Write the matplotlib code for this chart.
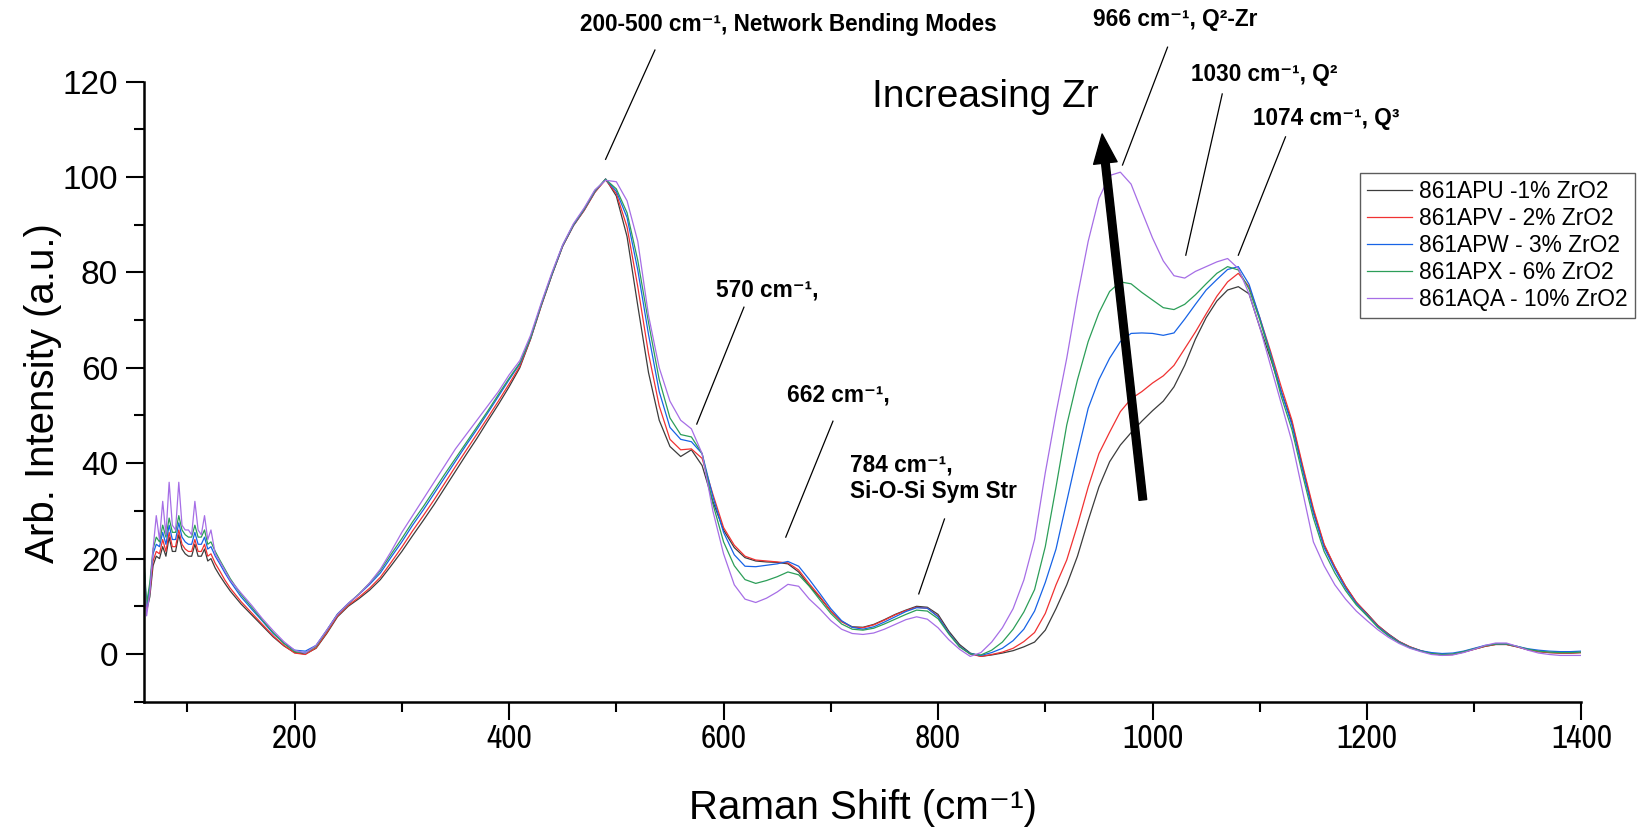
import matplotlib
matplotlib.use("Agg")
import matplotlib.pyplot as plt
from matplotlib.ticker import MultipleLocator
from matplotlib import font_manager
from matplotlib.font_manager import FontProperties

plt.rcParams["font.family"] = ["Liberation Sans", "DejaVu Sans"]

# Raman shift sampling (cm-1): finer at the low end where the fringes are
shift = [60, 62, 65, 68, 71, 74, 77, 80, 83, 86, 89, 92, 95, 98, 101, 104,
         107, 110, 113, 116, 119, 122, 126, 130, 135, 140] + list(range(150, 1401, 10))

apu = [15, 9, 12, 18.5, 20.5, 20, 22.5, 20.5, 24.5, 21.5, 21.5, 25, 22, 21, 20.5, 20.5,
       23, 20.5, 20.5, 22, 19.5, 20, 18, 16.5, 14.8, 13.2,
       10.5, 8.2, 5.9, 3.6, 1.7,
       0.3, 0.0, 1.2, 4.3, 7.8, 10.0, 11.6, 13.4, 15.6, 18.5,
       21.5, 24.8, 28.0, 31.3, 34.8, 38.3, 41.8, 45.2, 48.8, 52.3,
       56.0, 60.0, 66.0, 73.0, 79.5, 85.5, 89.8, 93.0, 96.8, 99.6,
       96.0, 87.5, 73.0, 59.0, 49.0, 43.5, 41.4, 42.8, 39.5, 32.0,
       26.0, 22.3, 20.2, 19.5, 19.3, 19.2, 18.9, 17.2, 14.3, 11.8,
       9.0, 6.8, 5.7, 5.6, 6.2, 7.2, 8.3, 9.2, 10.0, 9.8,
       8.3, 4.8, 2.0, 0.2, -0.5, -0.2, 0.2, 0.7, 1.5, 2.5,
       5.0, 9.5, 14.5, 20.5, 28.0, 35.0, 40.3, 43.8, 46.4, 48.8,
       51.0, 53.0, 56.0, 60.5, 66.0, 70.5, 74.0, 76.3, 77.0, 75.5,
       68.5, 62.0, 55.0, 48.5, 39.0, 30.0, 22.8, 18.2, 14.2, 10.8,
       8.5, 6.0, 4.2, 2.6, 1.5, 0.7, 0.1, -0.2, -0.1, 0.4,
       1.0, 1.6, 2.0, 2.0, 1.5, 0.9, 0.5, 0.3, 0.2, 0.2, 0.3]

apv = [16, 9.5, 13, 19.5, 21.5, 21, 24, 21.5, 25.5, 22.5, 22.5, 26, 23, 22, 21.5, 21.5,
       24, 21.5, 21.5, 23, 20.5, 21, 19, 17.5, 15.5, 13.8,
       11.0, 8.6, 6.2, 3.8, 1.8,
       0.2, -0.1, 1.3, 4.5, 8.0, 10.2, 11.9, 13.8, 16.1, 19.2,
       22.4, 25.8, 29.0, 32.3, 35.8, 39.3, 42.7, 46.1, 49.5, 53.0,
       56.6, 60.3, 66.0, 73.0, 79.5, 85.5, 89.8, 93.0, 96.8, 99.4,
       96.5, 89.5, 77.0, 63.0, 52.0, 45.0, 42.8, 43.0, 41.0, 33.5,
       26.5, 22.8, 20.5, 19.7, 19.5, 19.3, 19.1, 17.6, 14.7, 12.0,
       9.0, 6.8, 5.6, 5.5, 6.1, 7.1, 8.2, 9.1, 9.8, 9.6,
       7.9, 4.4, 1.6, 0.0, -0.5, -0.1, 0.4, 1.2, 2.6, 4.5,
       8.5, 14.5, 19.7, 27.0, 35.0, 42.0, 46.5, 50.8, 53.5, 55.0,
       56.8, 58.3, 60.5, 64.0, 67.5, 71.3, 75.0, 78.0, 79.8, 77.0,
       70.5, 63.5, 56.0, 49.0, 39.5, 30.5, 23.0, 18.3, 14.2, 10.9,
       8.4, 6.0, 4.1, 2.6, 1.5, 0.7, 0.1, -0.2, -0.1, 0.4,
       1.0, 1.6, 2.0, 2.0, 1.5, 0.9, 0.5, 0.3, 0.2, 0.2, 0.3]

apw = [17, 10, 14, 21, 23, 22.5, 25.5, 23, 27, 24, 24, 27.5, 24.5, 23.5, 23, 23,
       25.5, 23, 23, 24.5, 22, 22.5, 20.5, 19, 17, 15.2,
       12.0, 9.4, 6.9, 4.3, 2.3,
       0.8, 0.6, 1.8, 5.0, 8.4, 10.6, 12.5, 14.6, 17.0, 20.3,
       23.5, 27.0, 30.2, 33.6, 37.0, 40.4, 43.8, 47.1, 50.5, 54.0,
       57.5, 60.8, 66.2, 73.2, 79.6, 85.6, 89.9, 93.2, 97.0, 99.5,
       97.0, 91.5, 80.5, 67.0, 55.0, 47.5, 45.0, 44.5, 42.0, 33.0,
       25.5, 20.8, 18.4, 18.3, 18.6, 18.9, 19.4, 18.4, 15.6, 12.6,
       9.5, 7.0, 5.6, 5.2, 5.7, 6.7, 7.8, 8.9, 9.7, 9.6,
       7.8, 4.4, 1.6, 0.1, -0.3, 0.3, 1.2, 2.8, 5.2, 9.0,
       15.0, 22.0, 32.0, 42.0, 51.5, 57.5, 62.0, 65.5, 67.2, 67.3,
       67.2, 66.8, 67.3, 70.2, 73.3, 76.3, 78.5, 80.6, 81.2, 77.5,
       70.5, 63.0, 55.0, 48.0, 38.5, 29.5, 22.3, 17.8, 13.8, 10.6,
       8.2, 5.8, 4.0, 2.5, 1.4, 0.7, 0.3, 0.1, 0.2, 0.6,
       1.2, 1.8, 2.1, 2.1, 1.6, 1.1, 0.8, 0.6, 0.5, 0.5, 0.6]

apx = [18, 10.5, 15, 22, 24.5, 23.5, 27, 24.5, 28.5, 25.5, 25.5, 29, 26, 25, 24.5, 24.5,
       27, 24.5, 24.5, 26, 23, 23.5, 21.5, 19.8, 17.8, 15.8,
       12.5, 9.8, 7.1, 4.5, 2.2,
       0.5, 0.2, 1.6, 4.9, 8.3, 10.5, 12.6, 14.9, 17.5, 20.9,
       24.2, 27.7, 30.9, 34.3, 37.7, 41.0, 44.3, 47.6, 50.9, 54.4,
       57.8, 61.0, 66.3, 73.3, 79.7, 85.7, 90.0, 93.3, 97.1, 99.5,
       97.5, 92.5, 82.5, 69.5, 57.5, 49.5, 46.0, 45.5, 42.0, 31.5,
       23.5, 18.5, 15.6, 14.8, 15.4, 16.2, 17.2, 16.6, 14.2, 11.3,
       8.5, 6.3, 5.2, 5.0, 5.4, 6.3, 7.3, 8.3, 9.2, 9.0,
       7.4, 4.2, 1.5, 0.0, -0.2, 0.8, 2.5, 5.2, 8.8, 13.5,
       22.5, 35.0, 48.0, 57.5, 65.5, 71.5, 76.0, 78.0, 77.6, 75.8,
       74.2, 72.6, 72.2, 73.3, 75.3, 77.6, 79.8, 81.2, 80.5, 76.5,
       70.0, 62.5, 54.0, 47.0, 37.5, 28.5, 21.5, 17.0, 13.3, 10.3,
       8.0, 5.6, 3.8, 2.4, 1.3, 0.6, 0.1, -0.1, 0.0, 0.5,
       1.1, 1.7, 2.1, 2.1, 1.6, 1.0, 0.6, 0.4, 0.3, 0.3, 0.4]

aqa = [16, 8, 13, 22, 29, 24, 32, 25, 36, 27, 26, 36, 27, 26, 26, 25,
       32, 26, 25, 29, 24, 26, 21, 19.5, 17.5, 15.5,
       12.8, 10.2, 7.4, 4.9, 2.6,
       0.8, 0.2, 1.8, 5.0, 8.3, 10.6, 12.5, 14.9, 17.8, 21.5,
       25.5, 29.0, 32.5, 36.0, 39.5, 43.0, 46.0, 49.0, 52.0, 55.0,
       58.5, 61.5, 66.8, 73.6, 80.0, 85.8, 90.2, 93.5, 97.3, 99.3,
       99.0, 95.0, 86.5, 71.0, 60.0, 53.0, 49.0, 47.2, 42.0, 30.0,
       21.0, 14.5, 11.5, 10.8, 11.7, 13.0, 14.6, 14.2, 11.5, 9.4,
       7.0, 5.2, 4.3, 4.1, 4.4, 5.2, 6.2, 7.2, 7.8, 7.3,
       5.5, 3.0, 1.0, -0.5, 0.3, 2.5, 5.5, 9.5, 15.5, 24.0,
       38.0, 50.5, 62.0, 75.0, 86.5, 95.5, 100.3, 101.0, 98.5, 92.8,
       87.2, 82.4, 79.3, 78.8, 80.2, 81.2, 82.2, 82.9, 80.8, 75.5,
       68.5, 60.5, 52.5, 44.5, 34.0, 23.5, 18.5, 14.5, 11.5, 9.0,
       7.0, 5.1, 3.5, 2.2, 1.2, 0.5, -0.1, -0.3, -0.2, 0.3,
       1.0, 1.8, 2.3, 2.3, 1.6, 0.8, 0.2, -0.1, -0.3, -0.3, -0.3]

series = [
    ("861APU -1% ZrO2", apu, "#3c3c3c"),
    ("861APV - 2% ZrO2", apv, "#f03232"),
    ("861APW - 3% ZrO2", apw, "#1763e6"),
    ("861APX - 6% ZrO2", apx, "#2c9e58"),
    ("861AQA - 10% ZrO2", aqa, "#a66ee6"),
]

# label text, text centre, leader line start, leader line end (data units)
notes = [
    ("200-500 cm⁻¹, Network Bending Modes", (660, 132.0), (490, 103.7), (536, 126.6)),
    ("570 cm⁻¹,", (641, 76.3), (575, 48.2), (619, 72.7)),
    ("662 cm⁻¹,", (707, 54.3), (658, 24.5), (702, 48.8)),
    ("966 cm⁻¹, Q²-Zr", (1021, 133.1), (972, 102.5), (1014, 127.2)),
    ("1030 cm⁻¹, Q²", (1104, 121.4), (1031, 83.6), (1065, 117.4)),
    ("1074 cm⁻¹, Q³", (1162, 112.3), (1080, 83.6), (1124, 108.4)),
]
sym_str_note = ("784 cm⁻¹,\nSi-O-Si Sym Str", (718, 36.8), (782, 12.6), (806, 28.3))


def condensed_font():
    # the x tick labels in the original are set in an upright narrow face
    upright = [f for f in font_manager.fontManager.ttflist
               if f.style == "normal" and f.weight in (400, "normal", "regular")]
    for f in upright:
        if "Narrow" in f.name or "Condensed" in f.name:
            return FontProperties(fname=f.fname, size=24)
    for f in upright:
        if f.stretch in ("condensed", "semi-condensed", 300, 400) and "Sans" in f.name:
            return FontProperties(fname=f.fname, size=24)
    return FontProperties(family="Liberation Sans", size=21)


fig = plt.figure(figsize=(16.38, 8.32), dpi=100)
ax = fig.add_axes([0.0882, 0.1566, 0.8773, 0.7454])

for label, vals, color in series:
    ax.plot(shift, vals, color=color, lw=0.9, label=label)

ax.set_xlim(60, 1400)
ax.set_ylim(-10, 120)
ax.spines["top"].set_visible(False)
ax.spines["right"].set_visible(False)
for s in ("left", "bottom"):
    ax.spines[s].set_linewidth(1.8)

ax.xaxis.set_major_locator(MultipleLocator(200))
ax.xaxis.set_minor_locator(MultipleLocator(100))
ax.yaxis.set_major_locator(MultipleLocator(20))
ax.yaxis.set_minor_locator(MultipleLocator(10))
ax.tick_params(which="major", length=13, width=1.5)
ax.tick_params(which="minor", length=7, width=1.5)
ax.tick_params(axis="y", labelsize=24, pad=6)
ax.tick_params(axis="x", pad=3)
xfont = condensed_font()
for t in ax.get_xticklabels():
    t.set_fontproperties(xfont)

ax.set_ylabel("Arb. Intensity (a.u.)", fontsize=29, va="center")
ax.yaxis.set_label_coords(-0.0706, 0.497)
ax.set_xlabel("Raman Shift (cm⁻¹)", fontsize=29, va="center")
ax.xaxis.set_label_coords(0.5, -0.171)

for text, (tx, ty), p0, p1 in notes:
    ax.text(tx, ty, text, ha="center", va="center", fontsize=16.3,
            fontweight="bold", clip_on=False)
    ax.plot([p0[0], p1[0]], [p0[1], p1[1]], color="black", lw=0.9, clip_on=False)

text, (tx, ty), p0, p1 = sym_str_note
ax.text(tx, ty, text, ha="left", va="center", fontsize=16.3, fontweight="bold")
ax.plot([p0[0], p1[0]], [p0[1], p1[1]], color="black", lw=0.9)

ax.text(738, 116.7, "Increasing Zr", fontsize=28, ha="left", va="center", clip_on=False)
ax.annotate("", xy=(953, 109), xytext=(991, 32.3),
            arrowprops=dict(facecolor="black", edgecolor="black", width=5.5,
                            headwidth=17, headlength=21, shrink=0))

leg = ax.legend(loc="upper left", bbox_to_anchor=(0.8459, 0.8525), borderaxespad=0,
                fontsize=16.4, frameon=True, fancybox=False, handlelength=2.0,
                handletextpad=0.3, labelspacing=0.18, borderpad=0.3)
leg.get_frame().set_edgecolor("#333333")
leg.get_frame().set_linewidth(1.0)

fig.savefig("out.png", dpi=100)
